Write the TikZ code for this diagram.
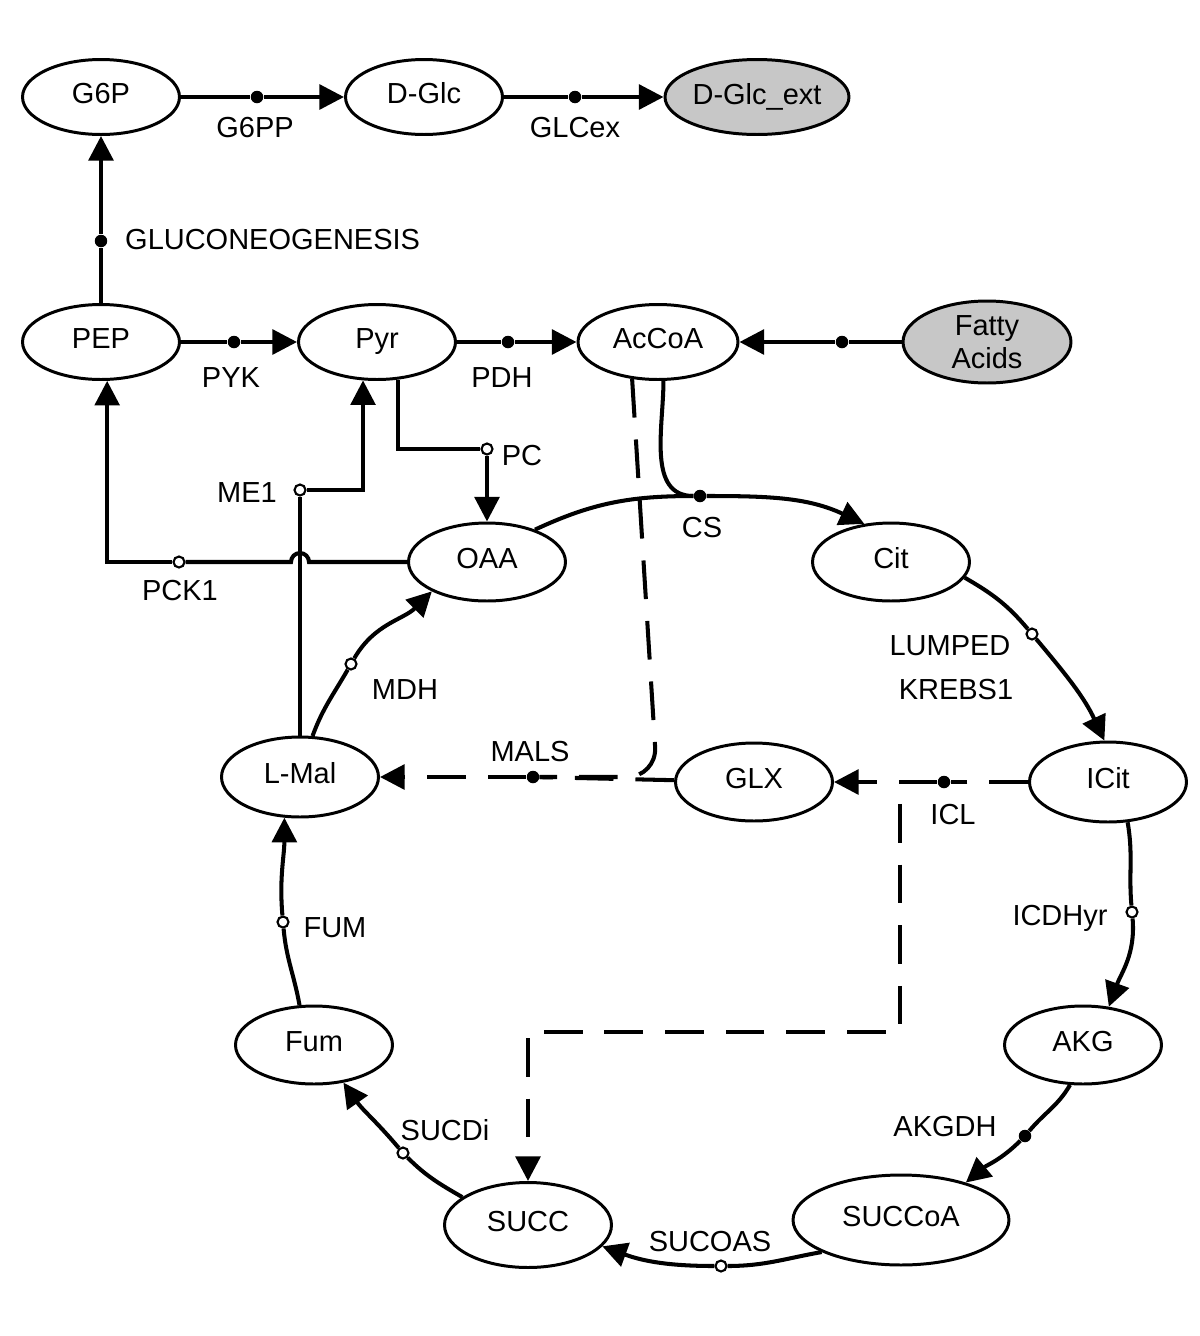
\documentclass[tikz,border=0pt]{standalone}
\usepackage{fontspec}
\setmainfont{Liberation Sans}
\usetikzlibrary{arrows.meta,shapes.geometric,calc}

\begin{document}
\begin{tikzpicture}[x=0.02cm, y=-0.02cm, >={Triangle[length=14pt,width=14pt]},
    font=\fontsize{16.5}{19}\selectfont,
    flux/.style={line width=2.3pt},
    glyox/.style={flux, dash pattern=on 22pt off 12.5pt}]
    \useasboundingbox (0,0) rectangle (1200,1336);

    \begin{scope}[every node/.style={ellipse, draw, line width=1.7pt, fill=white, inner sep=0pt, text height=1.4ex, text depth=0pt, minimum width=3.14cm, minimum height=1.5cm}]
        \node (g6p) at (101,97) {G6P};
        \node (dglc) at (424,97) {D-Glc};
        \node (pep) at (101,342) {PEP};
        \node (pyr) at (377,342) {Pyr};
        \node[minimum width=3.2cm] (accoa) at (658,342) {AcCoA};
        \node[minimum height=1.56cm] (oaa) at (487,562) {OAA};
        \node[minimum height=1.56cm] (cit) at (891,562) {Cit};
        \node[minimum height=1.6cm] (lmal) at (300,777) {L-Mal};
        \node[minimum height=1.56cm] (glx) at (754,782) {GLX};
        \node[minimum height=1.6cm] (icit) at (1108,782) {ICit};
        \node[minimum height=1.56cm] (fum) at (314,1045) {Fum};
        \node[minimum height=1.56cm] (akg) at (1083,1045) {AKG};
        \node[minimum width=4.32cm, minimum height=1.8cm] (succoa) at (901,1220) {SUCCoA};
        \node[minimum width=3.34cm, minimum height=1.7cm] (succ) at (528,1225) {SUCC};
    \end{scope}

    \begin{scope}[every node/.style={ellipse, draw, line width=1.7pt, fill=black!22, inner sep=0pt, align=center}]
        \node[minimum width=3.68cm, minimum height=1.5cm] (dglcext) at (757,97) {D-Glc\_ext};
        \node[minimum width=3.36cm, minimum height=1.64cm] (fatty) at (987,342) {Fatty\\Acids};
    \end{scope}

    % reaction points
    \begin{scope}[every node/.style={circle, fill=black, inner sep=0pt, minimum size=0.25cm}]
        \node (g6pp) at (257,97) {};
        \node (glcex) at (575,97) {};
        \node (gluco) at (101,241) {};
        \node (pyk) at (234,342) {};
        \node (pdh) at (508,342) {};
        \node (fa) at (842,342) {};
        \node (cs) at (700,496) {};
        \node (icl) at (944,782) {};
        \node (mals) at (533,777) {};
        \node (akgdh) at (1025,1136) {};
    \end{scope}

    \begin{scope}[every node/.style={circle, draw, fill=white, line width=1.2pt, inner sep=0pt, minimum size=0.22cm}]
        \node (pc) at (487,449) {};
        \node (pck1) at (179,562) {};
        \node (me1) at (300,490) {};
        \node (mdh) at (351,664) {};
        \node (krebs) at (1032,634) {};
        \node (icdh) at (1132,912) {};
        \node (sucoas) at (721,1266) {};
        \node (sucdi) at (403,1153) {};
        \node (fumr) at (283,922) {};
    \end{scope}

    % reaction names
    \node (g6pplbl) at (255,128) {G6PP};
    \node (glcexlbl) at (575,128) {GLCex};
    \node[anchor=west] (glucolbl) at (119,240) {GLUCONEOGENESIS};
    \node (pyklbl) at (231,378) {PYK};
    \node (pdhlbl) at (502,378) {PDH};
    \node (pclbl) at (522,456) {PC};
    \node (me1lbl) at (247,493) {ME1};
    \node (pck1lbl) at (180,591) {PCK1};
    \node (mdhlbl) at (405,690) {MDH};
    \node (cslbl) at (702,528) {CS};
    \node (lumpedlbl) at (950,646) {LUMPED};
    \node (krebslbl) at (956,690) {KREBS1};
    \node (icllbl) at (953,815) {ICL};
    \node (malslbl) at (530,752) {MALS};
    \node (icdhlbl) at (1060,918) {ICDHyr};
    \node (akgdhlbl) at (945,1127) {AKGDH};
    \node (sucoaslbl) at (710,1242) {SUCOAS};
    \node (sucdilbl) at (445,1130) {SUCDi};
    \node (fumlbl) at (335,928) {FUM};

    \coordinate (iclbranch) at (900,782);
    \coordinate (gcorner) at (900,1032);
    \coordinate (malsturn) at (657,777);

    \begin{scope}[every edge/.style={draw, flux}]
        \path [-] (g6p) edge (g6pp);
        \path [->] (g6pp) edge (dglc);
        \path [-] (dglc) edge (glcex);
        \path [->] (glcex) edge (dglcext);
        \path [-] (pep) edge (gluco);
        \path [->] (gluco) edge (g6p);
        \path [-] (pep) edge (pyk);
        \path [->] (pyk) edge (pyr);
        \path [-] (pyr) edge (pdh);
        \path [->] (pdh) edge (accoa);
        \path [-] (fatty) edge (fa);
        \path [->] (fa) edge (accoa);
        \path [->] (pc) edge (oaa);
        \path [-] (lmal) edge (me1);
        \path [-] (lmal.73) edge [out=70, in=-120] (mdh);
        \path [->] (mdh) edge [out=60, in=-135] (oaa.-152);
        \path [-] (oaa.34) edge [out=25, in=180] (cs);
        \path [-] (accoa.-82) edge [out=-90, in=180] (cs);
        \path [->] (cs) edge [out=0, in=155] (cit.125);
        \path [-] (cit.-12) edge [out=-30, in=130] (krebs);
        \path [->] (krebs) edge [out=-50, in=115] (icit.95);
        \path [-] (icit.-64) edge [out=-80, in=95] (icdh);
        \path [->] (icdh) edge [out=-85, in=70] (akg.56);
        \path [-] (akg.-108) edge [out=-120, in=50] (akgdh);
        \path [->] (akgdh) edge [out=-135, in=40] (succoa.30);
        \path [-] (succoa.-158) edge [out=190, in=0] (sucoas);
        \path [->] (sucoas) edge [out=180, in=-20] (succ.-16);
        \path [-] (succ.157) edge [out=150, in=-45] (sucdi);
        \path [->] (sucdi) edge [out=130, in=-55] (fum.-52);
        \path [-] (fum.110) edge [out=100, in=-85] (fumr);
        \path [->] (fumr) edge [out=95, in=-90] (lmal.-111);
        % glyoxylate shunt
        \path [-] (icit) edge [glyox] (icl);
        \path [->] (icl) edge [glyox] (glx);
        \path [-] (glx) edge [glyox] (mals);
        \path [->] (mals) edge [glyox] (lmal);
    \end{scope}

    \draw [flux] (pyr.-61) |- (pc);
    \draw [flux] (oaa.west) -- ($(me1 |- oaa.west)+(9,0)$) arc [start angle=0, end angle=180, radius=0.18cm] -- (pck1);
    \draw [flux, ->] (pck1) -| (pep.-81);
    \draw [flux, ->] (me1) -| (pyr.-110);
    \draw [glyox, dash phase=22pt, ->] (iclbranch) -- (gcorner) -| (succ.north);
    \draw [glyox, rounded corners=0.6cm] (accoa.-125) -- (malsturn) -- (mals);
\end{tikzpicture}
\end{document}
